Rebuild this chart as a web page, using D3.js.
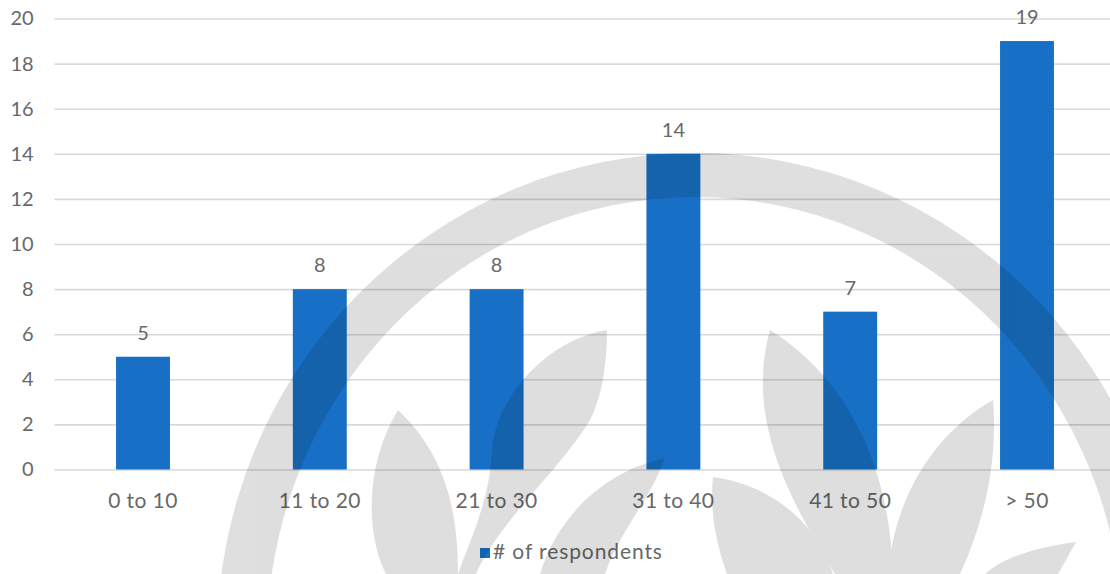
<!DOCTYPE html>
<html>
<head>
<meta charset="utf-8">
<script src="https://cdn.jsdelivr.net/npm/d3@7"></script>
<style>
  html, body { margin: 0; padding: 0; background: #fff; }
  svg { display: block; }
  text { font-family: Lato, "Open Sans", sans-serif; fill: #686868; }
</style>
</head>
<body>
<svg id="chart" width="1110" height="574"></svg>
<script>
// Respondents per group
const categories = ["0 to 10", "11 to 20", "21 to 30", "31 to 40", "41 to 50", "> 50"];
const respondents = [5, 8, 8, 14, 7, 19];
const yTicks = [0, 2, 4, 6, 8, 10, 12, 14, 16, 18, 20];
const seriesName = "# of respondents";

const W = 1110, H = 574;
const plot = { left: 54.6, right: 1115.4, top: 18.5, bottom: 469.5 };
const barColor = "#1870c6";
const textColor = "#686868";

const svg = d3.select("#chart");
svg.append("rect").attr("width", W).attr("height", H).attr("fill", "#fff");

const x = d3.scaleBand().domain(categories).range([plot.left, plot.right]).padding(0);
const y = d3.scaleLinear().domain([0, 20]).range([plot.bottom, plot.top]);
const barW = x.bandwidth() * 0.305;

// Horizontal gridlines with the value labels on the left
const yAxis = svg.append("g")
  .attr("transform", `translate(${plot.left},0)`)
  .call(d3.axisLeft(y).tickValues(yTicks).tickSize(-(W - plot.left)).tickPadding(21));
yAxis.select(".domain").remove();
yAxis.selectAll(".tick line").attr("stroke", "#d9d9d9").attr("stroke-width", 1.6);
yAxis.selectAll(".tick text").attr("font-size", 20).attr("fill", textColor);

// Bars
svg.append("g").selectAll("rect")
  .data(categories)
  .join("rect")
  .attr("x", (d) => x(d) + (x.bandwidth() - barW) / 2)
  .attr("y", (d, i) => y(respondents[i]))
  .attr("width", barW)
  .attr("height", (d, i) => y(0) - y(respondents[i]))
  .attr("fill", barColor);

// Data labels above the bars
svg.append("g").selectAll("text")
  .data(categories)
  .join("text")
  .attr("x", (d) => x(d) + x.bandwidth() / 2)
  .attr("y", (d, i) => y(respondents[i]) - 17)
  .attr("text-anchor", "middle")
  .attr("font-size", 20)
  .text((d, i) => respondents[i]);

// Category axis
const xAxis = svg.append("g")
  .attr("transform", `translate(0,${plot.bottom})`)
  .call(d3.axisBottom(x).tickSize(0).tickPadding(24));
xAxis.select(".domain").remove();
xAxis.selectAll(".tick text")
  .attr("font-size", 21)
  .attr("letter-spacing", 0.4)
  .attr("fill", textColor);

// Legend
const legend = svg.append("g").attr("transform", "translate(480,548)");
legend.append("rect").attr("width", 10).attr("height", 10).attr("fill", barColor);
legend.append("text")
  .attr("x", 13)
  .attr("y", 10.5)
  .attr("font-size", 21)
  .attr("letter-spacing", 0.9)
  .text(seriesName);

// Faint logo watermark laid over the chart
const mark = svg.append("g").attr("opacity", 0.125).attr("fill", "#000");
const cx = 695, cy = 640;
function ellipsePath(rx, ry) {
  return `M${cx - rx},${cy} A${rx},${ry} 0 1 1 ${cx + rx},${cy} A${rx},${ry} 0 1 1 ${cx - rx},${cy} Z`;
}
mark.append("path")
  .attr("fill-rule", "evenodd")
  .attr("d", ellipsePath(478, 487) + " " + ellipsePath(428, 443));
const leaves = [
  "M398,410 C362,470 368,540 386,574 L458,574 C458,500 440,450 398,410 Z",
  "M607,330 C545,340 495,400 492,450 C490,500 470,540 458,574 L476,574 C500,520 560,470 590,420 C603,395 607,360 607,330 Z",
  "M665,458 C610,470 560,510 540,574 L605,574 C620,530 650,500 665,458 Z",
  "M770,330 C745,420 790,500 835,574 L893,574 C890,470 850,380 770,330 Z",
  "M993,400 C940,430 895,490 888,574 L960,574 C985,520 998,460 993,400 Z",
  "M713,477 C770,485 815,520 833,574 L727,574 C715,540 710,510 713,477 Z",
  "M1076,542 C1030,548 1000,560 985,574 L1058,574 Z"
];
mark.selectAll("path.leaf").data(leaves).join("path").attr("class", "leaf").attr("d", (d) => d);
</script>
</body>
</html>
